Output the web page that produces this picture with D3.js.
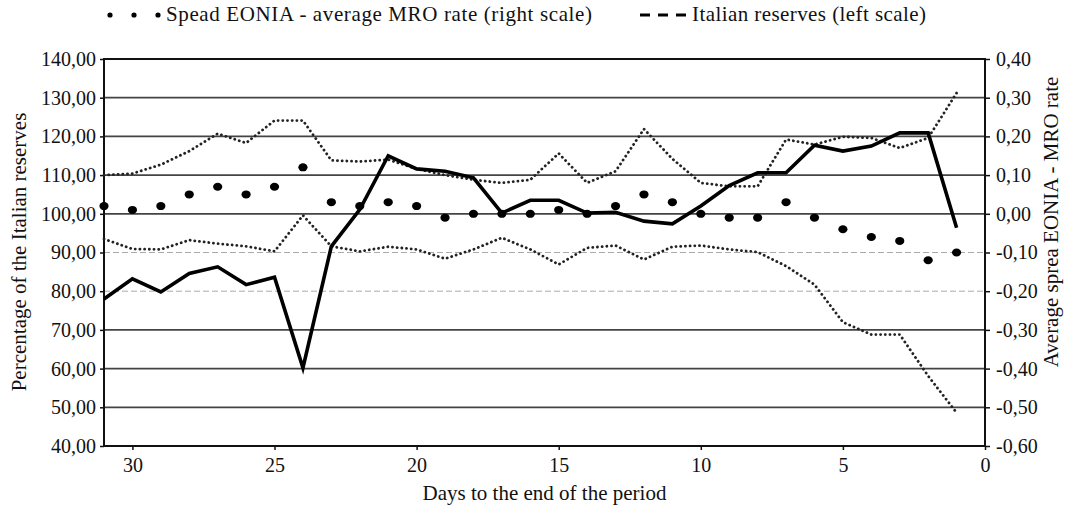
<!DOCTYPE html>
<html>
<head>
<meta charset="utf-8">
<script src="https://cdn.jsdelivr.net/npm/d3@7"></script>
<style>
  body { margin: 0; background: #fff; }
  text { font-family: "Liberation Serif", "DejaVu Serif", serif; fill: #111; }
</style>
</head>
<body>
<div class="canvas"></div>
<script>
// days to the end of the period (x), 31 .. 1
const days = d3.range(31, 0, -1);

// Italian reserves, % (left scale) - thick black line
const reserves = [78.0, 83.2, 79.8, 84.6, 86.3, 81.7, 83.6, 60.2, 91.6, 101.1,
  115.0, 111.6, 111.0, 109.3, 100.2, 103.5, 103.5, 100.2, 100.4, 98.1,
  97.4, 102.0, 107.3, 110.6, 110.6, 117.7, 116.2, 117.5, 120.9, 120.9, 96.4];

// upper and lower dotted bands (left scale)
const upperBand = [110.0, 110.4, 112.7, 116.2, 120.7, 118.3, 124.1, 124.1, 113.8, 113.5,
  114.0, 111.6, 110.0, 108.8, 108.0, 108.8, 115.6, 108.0, 111.0, 121.9,
  114.2, 108.0, 107.1, 107.1, 119.2, 117.9, 119.9, 119.6, 117.0, 119.6, 131.2];
const lowerBand = [93.5, 90.9, 90.8, 93.2, 92.3, 91.6, 90.3, 99.6, 91.6, 90.3,
  91.5, 90.8, 88.4, 90.8, 93.8, 90.8, 86.9, 91.2, 91.8, 88.2,
  91.5, 91.8, 90.8, 90.1, 86.5, 81.7, 72.0, 68.8, 68.8, 58.1, 48.6];

// spread EONIA - average MRO rate (right scale) - dots
const spread = [0.02, 0.01, 0.02, 0.05, 0.07, 0.05, 0.07, 0.12, 0.03, 0.02,
  0.03, 0.02, -0.01, 0.00, 0.00, 0.00, 0.01, 0.00, 0.02, 0.05,
  0.03, 0.00, -0.01, -0.01, 0.03, -0.01, -0.04, -0.06, -0.07, -0.12, -0.10];

const leftTicks = d3.range(40, 141, 10);
const rightTicks = d3.range(-0.6, 0.41, 0.1);
const xTicks = [30, 25, 20, 15, 10, 5, 0];

const dims = { width: 1071, height: 506 };
const plot = { left: 104, right: 985, top: 59, bottom: 446 };

const locale = d3.formatLocale({ decimal: ",", thousands: ".", grouping: [3], currency: ["", ""], minus: "-" });
const fmt2 = locale.format(".2f");

const svg = d3.select('.canvas')
  .append('svg')
  .attr('width', dims.width)
  .attr('height', dims.height)

const x = d3.scaleLinear().domain([31, 0]).range([plot.left, plot.right]);
const yL = d3.scaleLinear().domain([40, 140]).range([plot.bottom, plot.top]);
const yR = d3.scaleLinear().domain([-0.6, 0.4]).range([plot.bottom, plot.top]);

// gridlines (the 90 and 80 lines are faint in the original)
const faint = d => d === 90 || d === 80;
svg.append('g')
  .selectAll('line')
  .data(leftTicks.filter(d => d > 40 && d < 140))
  .join('line')
  .attr('x1', plot.left).attr('x2', plot.right)
  .attr('y1', d => yL(d)).attr('y2', d => yL(d))
  .attr('stroke', d => faint(d) ? '#aaa' : '#444')
  .attr('stroke-width', d => faint(d) ? 1 : 1.8)
  .attr('stroke-dasharray', d => faint(d) ? '6,3' : null)

// frame
svg.append('rect')
  .attr('x', plot.left).attr('y', plot.top)
  .attr('width', plot.right - plot.left).attr('height', plot.bottom - plot.top)
  .attr('fill', 'none').attr('stroke', '#111').attr('stroke-width', 2)

// axes
const axisL = svg.append('g')
  .attr('transform', `translate(${plot.left},0)`)
  .call(d3.axisLeft(yL).tickValues(leftTicks).tickSize(4).tickPadding(4).tickFormat(fmt2))
const axisR = svg.append('g')
  .attr('transform', `translate(${plot.right},0)`)
  .call(d3.axisRight(yR).tickValues(rightTicks).tickSize(5).tickPadding(6).tickFormat(fmt2))
const axisB = svg.append('g')
  .attr('transform', `translate(0,${plot.bottom})`)
  .call(d3.axisBottom(x).tickValues(xTicks).tickSize(4).tickPadding(8).tickFormat(d3.format('d')))

;[axisL, axisR, axisB].forEach(a => {
  a.select('.domain').remove();
  a.selectAll('line').attr('stroke', '#111').attr('stroke-width', 1.5);
  a.selectAll('text').attr('font-size', 20).attr('fill', '#111')
    .style('font-family', '"Liberation Serif", serif');
});

// dotted bands
const valueLine = d3.line().x((d, i) => x(days[i])).y(d => yL(d));
;[upperBand, lowerBand].forEach(series => {
  svg.append('path')
    .datum(series)
    .attr('d', valueLine)
    .attr('fill', 'none')
    .attr('stroke', '#222')
    .attr('stroke-width', 2.8)
    .attr('stroke-linecap', 'round')
    .attr('stroke-dasharray', '0.1,4.6')
});

// reserves line
svg.append('path')
  .datum(reserves)
  .attr('d', valueLine)
  .attr('fill', 'none')
  .attr('stroke', '#000')
  .attr('stroke-width', 3.6)
  .attr('stroke-linejoin', 'miter')

// spread dots
svg.append('g')
  .selectAll('ellipse')
  .data(spread)
  .join('ellipse')
  .attr('cx', (d, i) => x(days[i]))
  .attr('cy', d => yR(d))
  .attr('rx', 4.6).attr('ry', 4)
  .attr('fill', '#000')

// legend
const legend = svg.append('g').attr('transform', 'translate(0,15)');
legend.selectAll('circle')
  .data([110, 134, 158])
  .join('circle')
  .attr('cx', d => d).attr('cy', 0).attr('r', 2.6).attr('fill', '#000')
legend.append('text')
  .attr('x', 166).attr('y', 6)
  .attr('font-size', 21)
  .attr('textLength', 426)
  .text('Spead EONIA - average MRO rate (right scale)')
legend.selectAll('line')
  .data([640, 658, 676])
  .join('line')
  .attr('x1', d => d).attr('x2', d => d + 10)
  .attr('y1', 0).attr('y2', 0)
  .attr('stroke', '#000').attr('stroke-width', 3)
legend.append('text')
  .attr('x', 692).attr('y', 6)
  .attr('font-size', 21)
  .attr('textLength', 234)
  .text('Italian reserves (left scale)')

// axis titles
svg.append('text')
  .attr('x', (plot.left + plot.right) / 2).attr('y', 500)
  .attr('text-anchor', 'middle')
  .attr('font-size', 21)
  .text('Days to the end of the period')

svg.append('text')
  .attr('transform', 'translate(26,252) rotate(-90)')
  .attr('text-anchor', 'middle')
  .attr('font-size', 21)
  .text('Percentage of the Italian reserves')

svg.append('text')
  .attr('transform', 'translate(1058,222) rotate(-90)')
  .attr('text-anchor', 'middle')
  .attr('font-size', 21)
  .text('Average sprea EONIA - MRO rate')
</script>
</body>
</html>
